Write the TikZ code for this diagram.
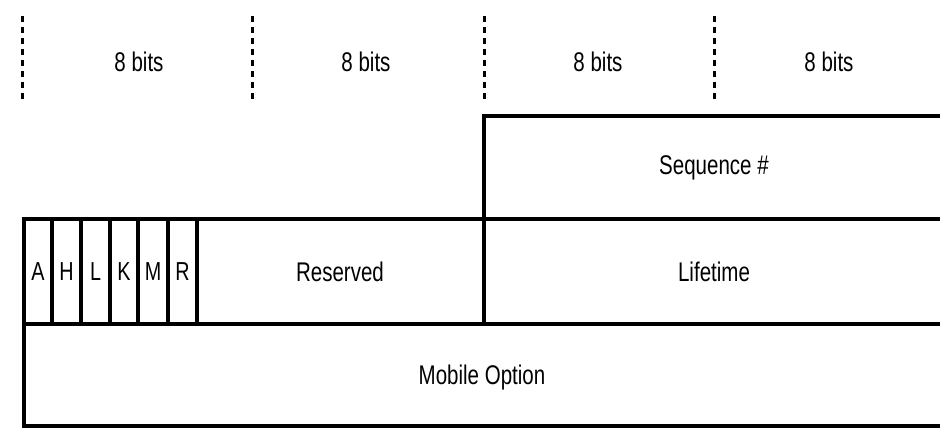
\documentclass[tikz,border=0pt]{standalone}
\usepackage{fontspec}
\setmainfont{Liberation Sans}[FakeStretch=0.76]
\begin{document}
\begin{tikzpicture}[x=1pt,y=-1pt,
  frame/.style={line width=3.4pt, line cap=rect},
  sepline/.style={line width=3pt, dash pattern=on 6pt off 5pt},
  label/.style={font=\fontsize{27}{30}\selectfont, inner sep=0pt, anchor=center},
  flag/.style={font=\fontsize{26}{30}\selectfont, inner sep=0pt, anchor=center}]
\useasboundingbox (0,0) rectangle (940,428);

% octet separators and widths
\foreach \x/\n in {22/s0,252/s1,484/s2,714/s3}
  \coordinate (\n) at (\x,16);
\foreach \n in {s0,s1,s2,s3}
  \draw[sepline] (\n) -- ++(0,86);
\node[label] (b0) at (139,62) {8 bits};
\node[label] (b1) at (366,62) {8 bits};
\node[label] (b2) at (598,62) {8 bits};
\node[label] (b3) at (829,62) {8 bits};

% field boundaries
\draw[frame] (484,219) -- (484,116) -- (942,116);
\draw[frame] (24,219) -- (942,219);
\draw[frame] (24,324) -- (942,324);
\draw[frame] (24,426) -- (942,426);
\draw[frame] (24,219) -- (24,426);
\foreach \x in {52,81,110,138,168,197,484}
  \draw[frame] (\x,219) -- (\x,324);

% field names
\node[label] (seq) at (714,168) {Sequence \#};
\node[flag] (fA) at (38,272) {A};
\node[flag] (fH) at (66.5,272) {H};
\node[flag] (fL) at (95.5,272) {L};
\node[flag] (fK) at (124,272) {K};
\node[flag] (fM) at (153,272) {M};
\node[flag] (fR) at (182.5,272) {R};
\node[label] (res) at (340,272) {Reserved};
\node[label] (life) at (714,272) {Lifetime};
\node[label] (mob) at (482,378) {Mobile Option};
\end{tikzpicture}
\end{document}
